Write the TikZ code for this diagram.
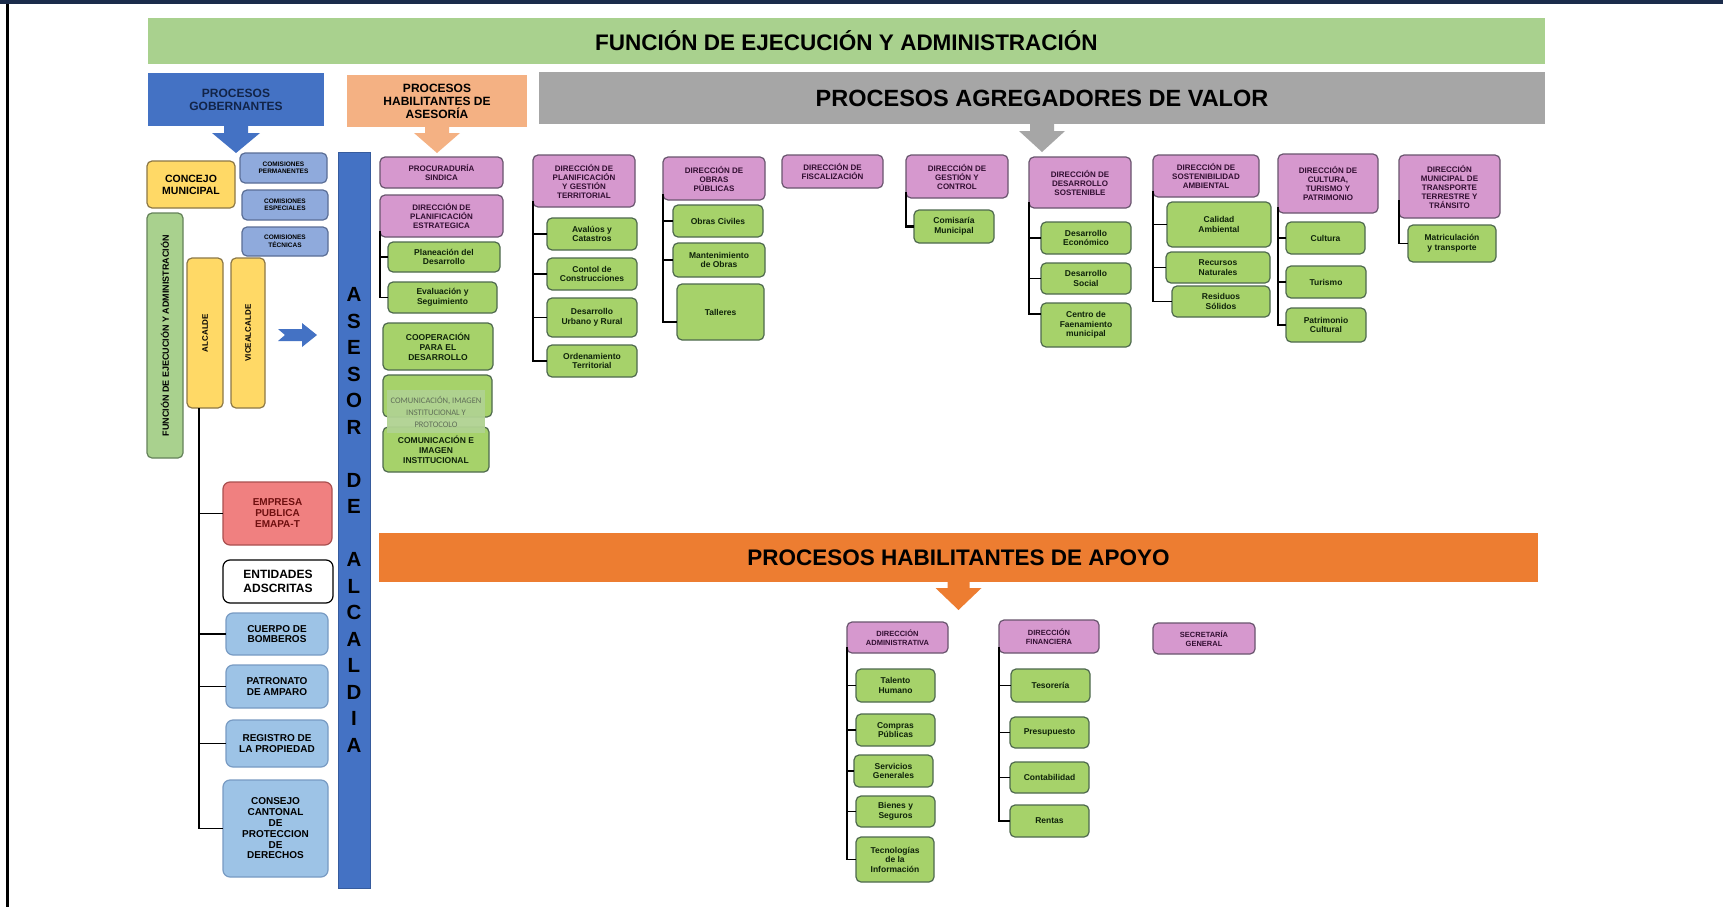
\documentclass[tikz,border=0pt]{standalone}
\usepackage{fontspec}
\setmainfont{Liberation Sans}
\newfontfamily\carl{Carlito}
\usetikzlibrary{calc}

\definecolor{navy}{RGB}{27,44,75}
\definecolor{gtitle}{RGB}{169,209,142}
\definecolor{govblue}{RGB}{68,114,196}
\definecolor{govtext}{RGB}{18,36,72}
\definecolor{salmon}{RGB}{244,177,131}
\definecolor{graybar}{RGB}{166,166,166}
\definecolor{orangebar}{RGB}{237,125,49}
\definecolor{pinkc}{RGB}{214,152,206}
\definecolor{pinkb}{RGB}{105,85,110}
\definecolor{pinkt}{RGB}{50,15,50}
\definecolor{greenc}{RGB}{166,210,106}
\definecolor{greenb}{RGB}{78,105,78}
\definecolor{greent}{RGB}{15,35,10}
\definecolor{combl}{RGB}{143,170,220}
\definecolor{comb}{RGB}{90,110,150}
\definecolor{ltblue}{RGB}{157,195,230}
\definecolor{ltblueb}{RGB}{120,155,195}
\definecolor{yell}{RGB}{255,217,102}
\definecolor{yellb}{RGB}{140,120,70}
\definecolor{redc}{RGB}{240,128,128}
\definecolor{redb}{RGB}{170,80,80}
\definecolor{redt}{RGB}{110,15,15}
\definecolor{fgreenb}{RGB}{100,130,90}
\definecolor{ovgreen}{RGB}{176,210,146}
\definecolor{ovtext}{RGB}{96,110,88}

% name, style, x1, y1, x2, y2, text
\newcommand\bx[7]{%
  \pgfmathsetmacro\bxw{#5-#3}\pgfmathsetmacro\bxh{#6-#4}%
  \node[#2, minimum width=\bxw pt, minimum height=\bxh pt] (#1) at ({(#3+#5)/2},{(#4+#6)/2}) {#7};}
% node, colour, half stem, half head, stem length, head length
\newcommand\darrow[6]{%
  \fill[#2] (#1.south) ++(-#3,-1) -- ++(0,#5+1) -- ++(#3-#4,0) -- ++(#4,#6) -- ++(#4,-#6) -- ++(#3-#4,0) -- ++(0,-#5-1) -- cycle;}

\begin{document}
\begin{tikzpicture}[x=1pt,y=-1pt,
  base/.style={rounded corners=5pt, inner sep=1pt, outer sep=0pt, align=center, line width=1.2pt},
  bar/.style={inner sep=0pt, outer sep=0pt, align=center, font=\bfseries\fontsize{22.5}{25}\selectfont},
  head/.style={base, fill=pinkc, draw=pinkb, text=pinkt, font=\bfseries\fontsize{8}{9}\selectfont},
  headb/.style={head, font=\bfseries\fontsize{7.5}{8.5}\selectfont},
  sub/.style={base, fill=greenc, draw=greenb, text=greent, font=\bfseries\fontsize{8.5}{9.5}\selectfont},
  subcap/.style={sub, font=\bfseries\fontsize{8.5}{10}\selectfont},
  cbox/.style={base, fill=combl, draw=comb, text=black, font=\bfseries\fontsize{6.5}{7.5}\selectfont},
  ybox/.style={base, fill=yell, draw=yellb, font=\bfseries\fontsize{10.5}{12}\selectfont},
  ybox2/.style={base, fill=yell, draw=yellb, font=\bfseries\fontsize{8}{9}\selectfont},
  fbox/.style={base, fill=gtitle, draw=fgreenb, font=\bfseries\fontsize{9}{10}\selectfont},
  ebox/.style={base, rounded corners=7pt, fill=redc, draw=redb, text=redt, font=\bfseries\fontsize{10}{11}\selectfont},
  wbox/.style={base, rounded corners=7pt, fill=white, draw=black, font=\bfseries\fontsize{12}{13.5}\selectfont},
  lbbox/.style={base, rounded corners=7pt, fill=ltblue, draw=ltblueb, font=\bfseries\fontsize{10}{10.8}\selectfont},
  ovbox/.style={inner sep=0pt, outer sep=0pt, align=center, fill=ovgreen, fill opacity=0.95, text opacity=1, text=ovtext, font=\carl\fontsize{8.5}{12}\selectfont},
  conn/.style={draw=black, line width=1.8pt}
]
\useasboundingbox (0,0) rectangle (1723,907);
\fill[white] (0,0) rectangle (1723,907);
\fill[navy] (0,0) rectangle (1723,4);
\fill[black] (6,4) rectangle (9,907);

% ---------- headers ----------
\bx{title}{bar, fill=gtitle}{148}{18}{1545}{64}{FUNCIÓN DE EJECUCIÓN Y ADMINISTRACIÓN}
\bx{gob}{bar, fill=govblue, text=govtext, font=\bfseries\fontsize{12}{13}\selectfont}{148}{73}{324}{126}{PROCESOS\\GOBERNANTES}
\bx{ase}{bar, fill=salmon, font=\bfseries\fontsize{12}{13}\selectfont}{347}{75}{527}{127}{PROCESOS\\HABILITANTES DE\\ASESORÍA}
\bx{agr}{bar, fill=graybar, font=\bfseries\fontsize{23.5}{26}\selectfont}{539}{72}{1545}{124}{PROCESOS AGREGADORES DE VALOR}
\bx{apo}{bar, fill=orangebar}{379}{533}{1538}{582}{PROCESOS HABILITANTES DE APOYO}
\darrow{gob}{govblue}{12}{24}{7}{20}
\darrow{ase}{salmon}{12}{23}{6}{20}
\darrow{agr}{graybar}{12}{23}{7}{21}
\darrow{apo}{orangebar}{11}{23}{6}{22}

% ---------- left column ----------
\bx{concejo}{ybox}{147}{161}{235}{208}{CONCEJO\\MUNICIPAL}
\bx{cperm}{cbox}{240}{153}{327}{183}{COMISIONES\\PERMANENTES}
\bx{cesp}{cbox}{242}{190}{328}{220}{COMISIONES\\ESPECIALES}
\bx{ctec}{cbox}{242}{227}{328}{256}{COMISIONES\\TÉCNICAS}
\bx{func}{fbox}{147}{213}{183}{458}{\rotatebox{90}{FUNCIÓN DE EJECUCIÓN Y ADMINISTRACIÓN}}
\bx{alc}{ybox2}{187}{258}{223}{408}{\rotatebox{90}{ALCALDE}}
\bx{vice}{ybox2}{231}{258}{265}{408}{\rotatebox{90}{VICEALCALDE}}
\fill[govblue] (278,329) -- (302,329) -- (302,323) -- (317,335) -- (302,347) -- (302,341) -- (278,341) -- (285,335) -- cycle;

\bx{emp}{ebox}{223}{482}{332}{545}{EMPRESA\\PUBLICA\\EMAPA-T}
\bx{ent}{wbox}{223}{560}{333}{603}{ENTIDADES\\ADSCRITAS}
\bx{cue}{lbbox}{226}{613}{328}{655}{CUERPO DE\\BOMBEROS}
\bx{pat}{lbbox}{226}{665}{328}{708}{PATRONATO\\DE AMPARO}
\bx{reg}{lbbox}{226}{720}{328}{767}{REGISTRO DE\\LA PROPIEDAD}
\bx{ccpd}{lbbox}{223}{780}{328}{877}{CONSEJO\\CANTONAL\\DE\\PROTECCION\\DE\\DERECHOS}
\foreach \c in {emp,cue,pat,reg,ccpd} \draw[conn] ([xshift=-6pt]alc.south) |- (\c.west);

% ---------- asesor de alcaldia ----------
\bx{asesor}{inner sep=0pt, outer sep=0pt, align=center, fill=govblue, draw=govblue!80!black, line width=0.8pt, font=\bfseries\fontsize{20.5}{26.5}\selectfont}{338}{152}{370}{888}{A\\S\\E\\S\\O\\R\\~\\D\\E\\~\\A\\L\\C\\A\\L\\D\\I\\A}

% ---------- asesoria column ----------
\bx{proc}{head}{380}{157}{503}{188}{PROCURADURÍA\\SINDICA}
\bx{dpe}{head}{380}{195}{503}{237}{DIRECCIÓN DE\\PLANIFICACIÓN\\ESTRATEGICA}
\bx{pdes}{sub}{388}{242}{500}{272}{Planeación del\\Desarrollo}
\bx{eval}{sub}{388}{282}{497}{313}{Evaluación y\\Seguimiento}
\foreach \c in {pdes,eval} \draw[conn] ([yshift=6pt]dpe.south west) |- (\c.west);
\bx{coop}{subcap}{383}{323}{493}{370}{COOPERACIÓN\\PARA EL\\DESARROLLO}
\bx{hid}{subcap}{383}{375}{492}{417}{}
\bx{comu}{subcap}{383}{427}{489}{472}{COMUNICACIÓN E\\IMAGEN\\INSTITUCIONAL}
\bx{ovl}{ovbox}{387}{390}{485}{433}{COMUNICACIÓN, IMAGEN\\INSTITUCIONAL Y\\PROTOCOLO}

% ---------- agregadores de valor ----------
\bx{dpt}{head}{533}{155}{635}{207}{DIRECCIÓN DE\\PLANIFICACIÓN\\Y GESTIÓN\\TERRITORIAL}
\bx{aval}{sub}{547}{218}{637}{250}{Avalúos y\\Catastros}
\bx{cont}{sub}{547}{258}{637}{290}{Contol de\\Construcciones}
\bx{dur}{sub}{547}{298}{637}{337}{Desarrollo\\Urbano y Rural}
\bx{ord}{sub}{547}{345}{637}{377}{Ordenamiento\\Territorial}
\foreach \c in {aval,cont,dur,ord} \draw[conn] ([yshift=6pt]dpt.south west) |- (\c.west);

\bx{dop}{head}{663}{157}{765}{200}{DIRECCIÓN DE\\OBRAS\\PÚBLICAS}
\bx{oc}{sub}{673}{205}{763}{237}{Obras Civiles}
\bx{mo}{sub}{673}{243}{765}{277}{Mantenimiento\\de Obras}
\bx{tal}{sub}{677}{284}{764}{340}{Talleres}
\foreach \c in {oc,mo} \draw[conn, line width=2.4pt] ([yshift=6pt]dop.south west) |- (\c.west);
\draw[conn, line width=2.4pt] ([yshift=6pt]dop.south west) |- ([yshift=18pt]tal.south west);

\bx{dfi}{head}{782}{155}{883}{188}{DIRECCIÓN DE\\FISCALIZACIÓN}

\bx{dgc}{head}{906}{155}{1008}{198}{DIRECCIÓN DE\\GESTIÓN Y\\CONTROL}
\bx{com}{sub}{914}{210}{994}{243}{Comisaría\\Municipal}
\draw[conn, line width=2.4pt] ([yshift=6pt]dgc.south west) |- (com.west);

\bx{dds}{head}{1029}{157}{1131}{208}{DIRECCIÓN DE\\DESARROLLO\\SOSTENIBLE}
\bx{de}{sub}{1041}{222}{1131}{254}{Desarrollo\\Económico}
\bx{dso}{sub}{1041}{263}{1131}{294}{Desarrollo\\Social}
\bx{cfm}{sub}{1041}{303}{1131}{347}{Centro de\\Faenamiento\\municipal}
\foreach \c in {de,dso} \draw[conn] ([yshift=6pt]dds.south west) |- (\c.west);
\draw[conn] ([yshift=6pt]dds.south west) |- ([yshift=-11pt]cfm.north west);

\bx{dsa}{head}{1153}{155}{1259}{197}{DIRECCIÓN DE\\SOSTENIBILIDAD\\AMBIENTAL}
\bx{cal}{sub}{1167}{202}{1271}{247}{Calidad\\Ambiental}
\bx{rn}{sub}{1166}{252}{1270}{283}{Recursos\\Naturales}
\bx{rs}{sub}{1172}{286}{1270}{317}{Residuos\\Sólidos}
\foreach \c in {cal,rn,rs} \draw[conn] ([yshift=6pt]dsa.south west) |- (\c.west);

\bx{dct}{head}{1278}{154}{1378}{213}{DIRECCIÓN DE\\CULTURA,\\TURISMO Y\\PATRIMONIO}
\bx{cul}{sub}{1286}{222}{1365}{254}{Cultura}
\bx{tur}{sub}{1286}{266}{1366}{298}{Turismo}
\bx{pc}{sub}{1286}{308}{1366}{342}{Patrimonio\\Cultural}
\foreach \c in {cul,tur,pc} \draw[conn, line width=2.2pt] ([yshift=6pt]dct.south west) |- (\c.west);

\bx{dtt}{head}{1399}{155}{1500}{218}{DIRECCIÓN\\MUNICIPAL DE\\TRANSPORTE\\TERRESTRE Y\\TRÁNSITO}
\bx{mat}{sub}{1408}{225}{1496}{262}{Matriculación\\y transporte}
\draw[conn] ([yshift=18pt]dtt.south west) |- (mat.west);

% ---------- habilitantes de apoyo ----------
\bx{dad}{headb}{847}{622}{948}{653}{DIRECCIÓN\\ADMINISTRATIVA}
\bx{th}{sub}{856}{669}{935}{702}{Talento\\Humano}
\bx{cp}{sub}{856}{714}{935}{746}{Compras\\Públicas}
\bx{sg}{sub}{854}{755}{933}{787}{Servicios\\Generales}
\bx{bs}{sub}{856}{796}{935}{827}{Bienes y\\Seguros}
\bx{ti}{sub}{856}{837}{934}{882}{Tecnologías\\de la\\Información}
\foreach \c in {th,cp,sg,bs,ti} \draw[conn] ([yshift=6pt]dad.south west) |- (\c.west);

\bx{dfn}{headb}{999}{620}{1099}{653}{DIRECCIÓN\\FINANCIERA}
\bx{tes}{sub}{1011}{669}{1090}{702}{Tesorería}
\bx{pre}{sub}{1010}{717}{1089}{748}{Presupuesto}
\bx{cnt}{sub}{1010}{762}{1089}{793}{Contabilidad}
\bx{ren}{sub}{1010}{805}{1089}{837}{Rentas}
\foreach \c in {tes,pre,cnt,ren} \draw[conn] ([yshift=6pt]dfn.south west) |- (\c.west);

\bx{sec}{headb}{1153}{623}{1255}{654}{SECRETARÍA\\GENERAL}
\end{tikzpicture}
\end{document}
